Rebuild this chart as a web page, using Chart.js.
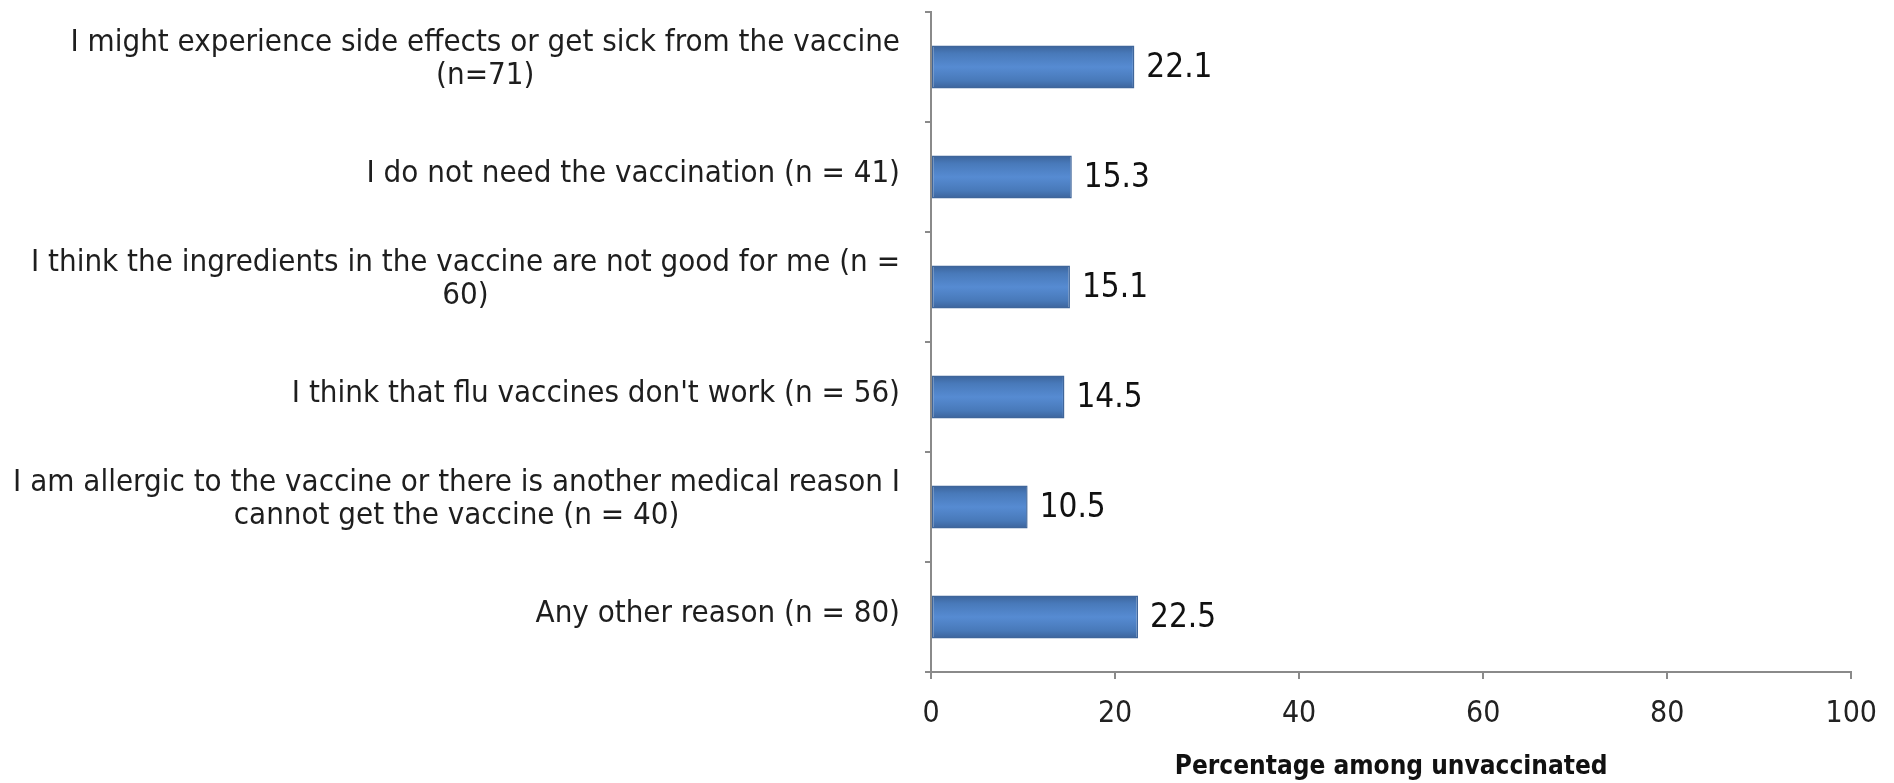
<!DOCTYPE html>
<html>
<head>
<meta charset="utf-8">
<script src="https://cdn.jsdelivr.net/npm/chart.js@4/dist/chart.umd.min.js"></script>
<style>
  html, body { margin: 0; padding: 0; background: #ffffff; }
  #wrap { width: 1894px; height: 783px; position: relative; }
</style>
</head>
<body>
<div id="wrap"><canvas id="chart" width="1894" height="783"></canvas></div>
<script>
// Reasons for not getting the flu vaccine, among the unvaccinated
const reasons = [
  ['I might experience side effects or get sick from the vaccine', '(n=71)'],
  ['I do not need the vaccination (n = 41)'],
  ['I think the ingredients in the vaccine are not good for me (n =', '60)'],
  ["I think that flu vaccines don't work (n = 56)"],
  ['I am allergic to the vaccine or there is another medical reason I', 'cannot get the vaccine (n = 40)'],
  ['Any other reason (n = 80)']
];
const percentages = [22.1, 15.3, 15.1, 14.5, 10.5, 22.5];
const xTicks = [0, 20, 40, 60, 80, 100];
const axisTitle = 'Percentage among unvaccinated';

const FONT = "'DejaVu Sans Condensed', 'Liberation Sans', sans-serif";
const BAR_FRACTION = 0.39;

// Blue bars shaded darker at the top and bottom edges
function barFill(ctx) {
  const chart = ctx.chart;
  const area = chart.chartArea;
  if (!area || !chart.scales.y) return '#4a7ebb';
  const yScale = chart.scales.y;
  const cy = yScale.getPixelForValue(ctx.dataIndex);
  const half = (area.bottom - area.top) / reasons.length * BAR_FRACTION / 2;
  const g = chart.ctx.createLinearGradient(0, cy - half, 0, cy + half);
  g.addColorStop(0, '#3c639a');
  g.addColorStop(0.18, '#4879b9');
  g.addColorStop(0.5, '#568bd2');
  g.addColorStop(0.82, '#4879b9');
  g.addColorStop(1, '#3c639a');
  return g;
}

// Category labels: right-aligned block beside the axis, wrapped lines centred within it
const categoryLabels = {
  id: 'categoryLabels',
  afterDraw(chart) {
    const c = chart.ctx;
    const yScale = chart.scales.y;
    const right = chart.chartArea.left - 31;
    const lineH = 33;
    c.save();
    c.font = '31px ' + FONT;
    c.fillStyle = '#1e1e1e';
    c.textAlign = 'center';
    c.textBaseline = 'middle';
    reasons.forEach((lines, i) => {
      const cy = yScale.getPixelForValue(i) - 3 - (lines.length - 1) * 5;
      const w = Math.max(...lines.map(l => c.measureText(l).width));
      const cx = right - w / 2;
      const y0 = cy - (lines.length - 1) * lineH / 2;
      lines.forEach((l, k) => c.fillText(l, cx, y0 + k * lineH));
    });
    c.restore();
  }
};

// Value labels just past the end of each bar
const valueLabels = {
  id: 'valueLabels',
  afterDatasetsDraw(chart) {
    const c = chart.ctx;
    const meta = chart.getDatasetMeta(0);
    c.save();
    c.font = '33px ' + FONT;
    c.fillStyle = '#111111';
    c.textAlign = 'left';
    c.textBaseline = 'middle';
    meta.data.forEach((bar, i) => {
      c.fillText(percentages[i].toFixed(1), bar.x + 12, bar.y + 1);
    });
    c.restore();
  }
};

new Chart(document.getElementById('chart'), {
  type: 'bar',
  data: {
    labels: reasons,
    datasets: [{
      data: percentages,
      backgroundColor: barFill,
      borderColor: '#3f669b',
      borderWidth: 1.5,
      borderSkipped: false,
      barPercentage: BAR_FRACTION,
      categoryPercentage: 1.0
    }]
  },
  options: {
    indexAxis: 'y',
    responsive: false,
    animation: false,
    devicePixelRatio: 1,
    layout: { padding: { top: 12, right: 38, left: 0, bottom: 0 } },
    plugins: {
      legend: { display: false },
      tooltip: { enabled: false },
      title: { display: false }
    },
    scales: {
      y: {
        type: 'category',
        ticks: { display: false },
        grid: {
          drawOnChartArea: false,
          drawTicks: true,
          tickLength: 6,
          offset: true,
          color: '#8a8a8a',
          lineWidth: 2
        },
        border: { color: '#8a8a8a', width: 2 },
        afterFit(scale) { scale.width = 931; }
      },
      x: {
        type: 'linear',
        min: 0,
        max: 100,
        afterBuildTicks(scale) { scale.ticks = xTicks.map(v => ({ value: v })); },
        ticks: {
          font: { family: FONT, size: 30 },
          color: '#222222',
          padding: 17,
          maxRotation: 0
        },
        grid: {
          drawOnChartArea: false,
          drawTicks: true,
          tickLength: 7,
          color: '#8a8a8a',
          lineWidth: 2
        },
        border: { color: '#8a8a8a', width: 2 },
        title: {
          display: true,
          text: axisTitle,
          font: { family: FONT, size: 26, weight: 'bold' },
          color: '#111111',
          padding: { top: 0, bottom: 0 }
        },
        afterFit(scale) { scale.height = 111; }
      }
    }
  },
  plugins: [categoryLabels, valueLabels]
});
</script>
</body>
</html>
